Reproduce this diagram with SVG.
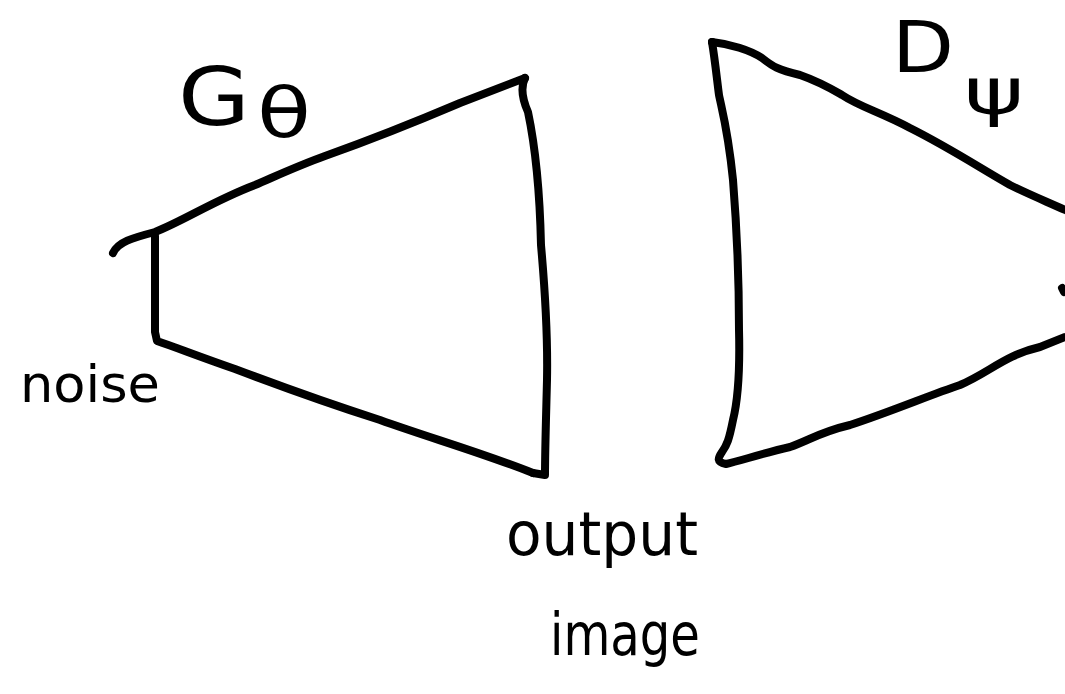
<svg xmlns="http://www.w3.org/2000/svg" width="1065" height="694" viewBox="0 0 1065 694">
<style>
.s{fill:none;stroke:#000;stroke-width:8;stroke-linecap:round;stroke-linejoin:round}
.t{font-family:"DejaVu Sans",sans-serif;fill:#000}
</style>
<rect width="1065" height="694" fill="#fff"/>
<g id="generator">
<path class="s" d="M113,253 C118,242 132,238 155,232 C185,220 215,200 255,185 C285,172 300,165 325,156 C370,140 420,120 460,103 L525,78"/>
<path class="s" d="M525,78 C521,86 521,96 528,112 C536,150 540,200 541,245 C545,290 548,330 547,380 C546,420 545,450 545,475 L533,473"/>
<path class="s" d="M155,236 L155,332 L157,341 C175,347 200,357 235,369 C280,386 330,404 380,420 C430,438 480,452 533,473"/>
</g>
<g id="discriminator">
<path class="s" d="M712,42 C730,44 750,50 762,58 C772,66 778,70 800,75 C820,82 830,88 842,95 C860,107 880,112 910,128 C950,148 980,168 1010,185 C1030,195 1050,203 1065,210"/>
<path class="s" d="M712,42 C715,60 717,80 719,95 C722,110 728,130 733,180 C737,230 739,290 739,330 C740,370 738,400 733,420 C729,440 727,445 722,452 C718,458 716,462 726,464 C740,461 760,454 790,447 C810,440 820,432 850,425 C890,412 930,395 960,385 C990,372 1005,355 1040,347 L1065,337"/>
<path class="s" d="M1062,288 L1064,292"/>
</g>
<g id="labels">
<text class="t" x="178" y="125" font-size="80" textLength="72" lengthAdjust="spacingAndGlyphs">G</text>
<text class="t" x="257" y="137" font-size="70" textLength="54" lengthAdjust="spacingAndGlyphs">θ</text>
<text class="t" x="892" y="72" font-size="72" textLength="62" lengthAdjust="spacingAndGlyphs">D</text>
<text class="t" x="964" y="114" font-size="64" textLength="60" lengthAdjust="spacingAndGlyphs">ψ</text>
<text class="t" x="20" y="402" font-size="52" textLength="140" lengthAdjust="spacingAndGlyphs">noise</text>
<text class="t" x="506" y="555" font-size="60" textLength="192" lengthAdjust="spacingAndGlyphs">output</text>
<text class="t" x="550" y="655" font-size="58" textLength="150" lengthAdjust="spacingAndGlyphs">image</text>
</g>
</svg>
